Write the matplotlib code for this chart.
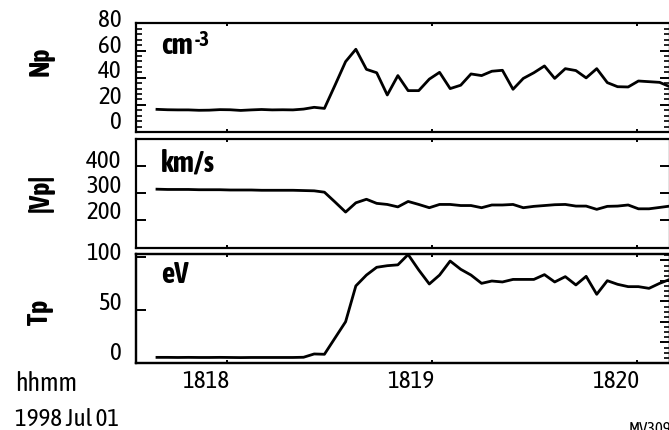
import matplotlib
matplotlib.use('Agg')
import matplotlib.pyplot as plt
import matplotlib.transforms as mtransforms
from matplotlib.ticker import FixedLocator, MultipleLocator, AutoMinorLocator

# sample times, seconds after 18:17:00 (1998 Jul 01)
secs = [39.6, 42.7, 45.7, 48.8, 51.9, 54.9, 58.0, 61.0, 64.1, 67.2,
        70.2, 73.3, 76.4, 79.4, 82.5, 85.6, 88.6, 91.7, 94.8, 97.8,
        100.9, 103.9, 107.0, 110.1, 113.1, 116.2, 119.3, 122.3, 125.4, 128.5,
        131.5, 134.6, 137.6, 140.7, 143.8, 146.8, 149.9, 153.0, 156.0, 159.1,
        162.2, 165.2, 168.3, 171.4, 174.4, 177.5, 180.5, 183.6, 186.7, 189.7]

# proton density, cm-3
np_cm3 = [16.7, 16.4, 16.3, 16.3, 16.0, 16.1, 16.5, 16.4, 15.9, 16.3,
          16.6, 16.3, 16.4, 16.3, 16.9, 18.2, 17.4, 34.5, 51.9, 61.0,
          46.2, 43.7, 27.3, 41.6, 30.5, 30.5, 39.0, 44.0, 32.0, 34.5,
          42.8, 41.6, 44.8, 45.5, 31.5, 39.5, 43.7, 48.7, 39.5, 46.7,
          45.3, 39.9, 46.7, 36.4, 33.4, 33.2, 37.6, 37.1, 36.6, 33.4]

# proton speed |Vp|, km/s
vp_kms = [314, 313, 313, 313, 312, 312, 312, 311, 311, 311,
          310, 310, 310, 310, 309, 308, 303, 267, 230, 264,
          277, 262, 258, 249, 269, 258, 246, 258, 258, 254,
          254, 246, 256, 256, 258, 246, 251, 254, 257, 258,
          252, 252, 240, 251, 252, 256, 242, 242, 247, 252]

# proton temperature, eV
tp_ev = [5.3, 5.3, 5.2, 5.3, 5.2, 5.2, 5.3, 5.2, 5.1, 5.2,
         5.2, 5.2, 5.2, 5.2, 5.4, 8.5, 8.2, 23.5, 38.8, 72.5,
         82.7, 90.0, 91.5, 92.3, 102.0, 87.5, 74.3, 82.7, 95.9, 88.1,
         82.7, 74.9, 77.1, 76.2, 78.6, 78.6, 78.6, 83.1, 76.2, 81.2,
         73.4, 81.5, 64.6, 77.4, 74.0, 71.8, 71.8, 70.2, 74.9, 78.6]

xticks = [18, 19, 20]
xticklabels = ['1818', '1819', '1820']

plt.rcParams['font.family'] = ['Asap Condensed', 'Archivo Narrow', 'DejaVu Sans']

W, H = 669, 430
fig = plt.figure(figsize=(W / 100, H / 100), dpi=100)
t = [17 + s / 60 for s in secs]


def px(dx, dy):
    """Offset in screen pixels (y up)."""
    return mtransforms.ScaledTranslation(dx / 100, dy / 100, fig.dpi_scale_trans)


def ylabels(ax, yticks):
    """Y labels sit a little off their ticks, as in the original plot."""
    y0, y1 = ax.get_ylim()
    for v in yticks:
        frac = (y1 - v) / (y1 - y0)
        ax.text(0, v, str(v), transform=ax.get_yaxis_transform() + px(-14.5, -(3.7 - 6.5 * frac)),
                ha='right', va='baseline', fontsize=18, clip_on=False)


def panel(top, bottom, y, ylim, yticks, minor, name, name_y, unit, unit_y):
    ax = fig.add_axes([136 / W, 1 - bottom / H, (670 - 136) / W, (bottom - top) / H])
    ax.plot(t, y, color='black', lw=2.0)
    ax.set_xlim(17.5576, 20.1624)
    ax.set_ylim(*ylim)
    ax.xaxis.set_major_locator(FixedLocator(xticks))
    ax.yaxis.set_major_locator(FixedLocator(yticks))
    if minor:
        ax.yaxis.set_minor_locator(AutoMinorLocator(minor))
    for s in ax.spines.values():
        s.set_linewidth(1.6)
    ax.tick_params(axis='x', direction='in', top=True, length=2.2, width=1.4, labelbottom=False)
    ax.tick_params(axis='y', which='major', direction='in', length=7.2, width=1.4, labelleft=False)
    ax.tick_params(axis='y', which='minor', direction='in', length=4.0, width=1.2)
    ylabels(ax, yticks)
    fig.text(41 / W, 1 - name_y / H, name, rotation=90, ha='center', va='center',
             fontsize=20, fontweight='bold')
    fig.text(161 / W, 1 - unit_y / H, unit, ha='left', va='baseline', fontsize=21, fontweight='bold')
    return ax


ax1 = panel(23.5, 132, np_cm3, (0, 80), [0, 20, 40, 60, 80], 5, 'Np', 61, 'cm', 54)
ax1.tick_params(axis='y', which='both', right=True)
fig.text(195 / W, 1 - 46 / H, '-3', ha='left', va='baseline', fontsize=15, fontweight='bold')

ax2 = panel(138.5, 247.5, vp_kms, (100, 500), [200, 300, 400], 0, '|Vp|', 192.5, 'km/s', 171)
ax2.tick_params(axis='y', which='both', right=True)

ax3 = panel(254, 363, tp_ev, (0, 102.5), [0, 50, 100], 0, 'Tp', 312.5, 'eV', 283)
# time labels end just right of their ticks
for v, lab in zip(xticks, xticklabels):
    ax3.text(v, 0, lab, transform=ax3.get_xaxis_transform() + px(2.5, -6.5),
             ha='right', va='top', fontsize=18, clip_on=False)

# unlabeled secondary scale on the right of the Tp panel
ax3r = ax3.twinx()
ax3r.set_ylim(0, 102.5 / 19.3)
ax3r.yaxis.set_major_locator(MultipleLocator(1))
ax3r.yaxis.set_minor_locator(AutoMinorLocator(4))
ax3r.tick_params(axis='y', which='major', direction='in', length=7.2, width=1.4, labelright=False)
ax3r.tick_params(axis='y', which='minor', direction='in', length=4.0, width=1.2)
for s in ax3r.spines.values():
    s.set_linewidth(1.6)

fig.text(15 / W, 1 - 391 / H, 'hhmm', ha='left', va='baseline', fontsize=18.5)
fig.text(15 / W, 1 - 426 / H, '1998 Jul 01', ha='left', va='baseline', fontsize=18)
fig.text(629 / W, 1 - 421 / H, 'MV3098', ha='left', va='top', fontsize=12)

fig.savefig('out.png', dpi=100)
